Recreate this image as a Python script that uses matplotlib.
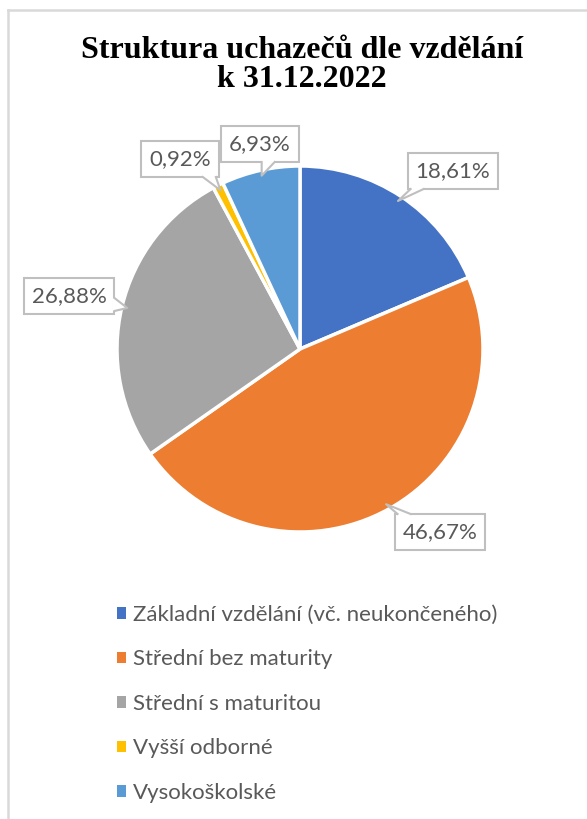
import matplotlib
matplotlib.use("Agg")
import matplotlib.pyplot as plt
from matplotlib.patches import Rectangle, Polygon, Patch
from matplotlib.lines import Line2D
import numpy as np

categories = ["Základní vzdělání (vč. neukončeného)", "Střední bez maturity",
              "Střední s maturitou", "Vyšší odborné", "Vysokoškolské"]
shares = [18.61, 46.67, 26.88, 0.92, 6.93]
colors = ["#4472C4", "#ED7D31", "#A5A5A5", "#FFC000", "#5B9BD5"]
title = "Struktura uchazečů dle vzdělání\nk 31.12.2022"

# layout (pixel coords, y from top)
W, H = 587, 819
cx, cy, R = 300, 349, 183
box_centers = [(453, 171), (440, 532), (69, 296), (180, 159), (260, 144)]

label_font = ["Lato", "DejaVu Sans"]
text_gray = "#595959"
edge_gray = "#BFBFBF"

fig = plt.figure(figsize=(W / 100, H / 100), dpi=100)
ax = fig.add_axes([0, 0, 1, 1])

wedges, _ = ax.pie(shares, colors=colors, center=(cx, H - cy), radius=R,
                   startangle=90, counterclock=False,
                   wedgeprops=dict(edgecolor="white", linewidth=2.5))
ax.set_xlim(0, W)
ax.set_ylim(0, H)
ax.set_aspect("equal")
ax.axis("off")

# chart frame (cropped at right/bottom)
ax.add_line(Line2D([8, 8], [-5, H - 10], color="#D9D9D9", lw=1.8))
ax.add_line(Line2D([8, W + 5], [H - 10, H - 10], color="#D9D9D9", lw=1.8))

ax.text(302, H - 65, title, ha="center", va="center", fontsize=23,
        fontweight="bold", family="Liberation Serif", linespacing=1.0)


def callout(txt, center, apex, fs=16):
    t = ax.text(center[0], H - center[1], txt, ha="center", va="center",
                fontsize=fs, color=text_gray, family=label_font, zorder=10)
    fig.canvas.draw()
    bb = t.get_window_extent()
    pw, ph = 8, 8
    x0, x1 = bb.x0 - pw, bb.x1 + pw
    y0, y1 = H - center[1] - bb.height / 2 - ph, H - center[1] + bb.height / 2 + ph
    ax.add_patch(Rectangle((x0, y0), x1 - x0, y1 - y0, facecolor="white",
                           edgecolor=edge_gray, lw=1.5, zorder=5))
    ax_, ay = apex
    bw = 13
    if ay < y0 or ay > y1:
        ys = y0 if ay < y0 else y1
        inward = 2 if ay < y0 else -2
        bx = min(max(ax_, x0 + 3), x1 - 3 - bw)
        b1, b2 = (bx, ys), (bx + bw, ys)
        poly = [(bx, ys + inward), b1, apex, b2, (bx + bw, ys + inward)]
    else:
        xs = x1 if ax_ > x1 else x0
        inward = -2 if ax_ > x1 else 2
        by = min(max(ay - bw / 2, y0 + 3), y1 - 3 - bw)
        b1, b2 = (xs, by), (xs, by + bw)
        poly = [(xs + inward, by), b1, apex, b2, (xs + inward, by + bw)]
    ax.add_patch(Polygon(poly, closed=True, facecolor="white", edgecolor="none", zorder=6))
    ax.add_line(Line2D([b1[0], apex[0], b2[0]], [b1[1], apex[1], b2[1]],
                       color=edge_gray, lw=1.5, zorder=7))


for w, v, c in zip(wedges, shares, box_centers):
    mid = np.deg2rad((w.theta1 + w.theta2) / 2)
    apex = (cx + R * 0.97 * np.cos(mid), H - cy + R * 0.97 * np.sin(mid))
    callout(f"{v:.2f}%".replace(".", ","), c, apex)

handles = [Patch(facecolor=c, edgecolor="none") for c in colors]
fig.legend(handles, categories, loc="upper left", bbox_to_anchor=(97 / W, 1 - 585 / H),
           frameon=False, labelcolor=text_gray,
           prop=dict(family=label_font, size=16),
           handlelength=0.42, handleheight=0.42, handletextpad=0.3,
           labelspacing=1.1)

fig.savefig("out.png", dpi=100)
